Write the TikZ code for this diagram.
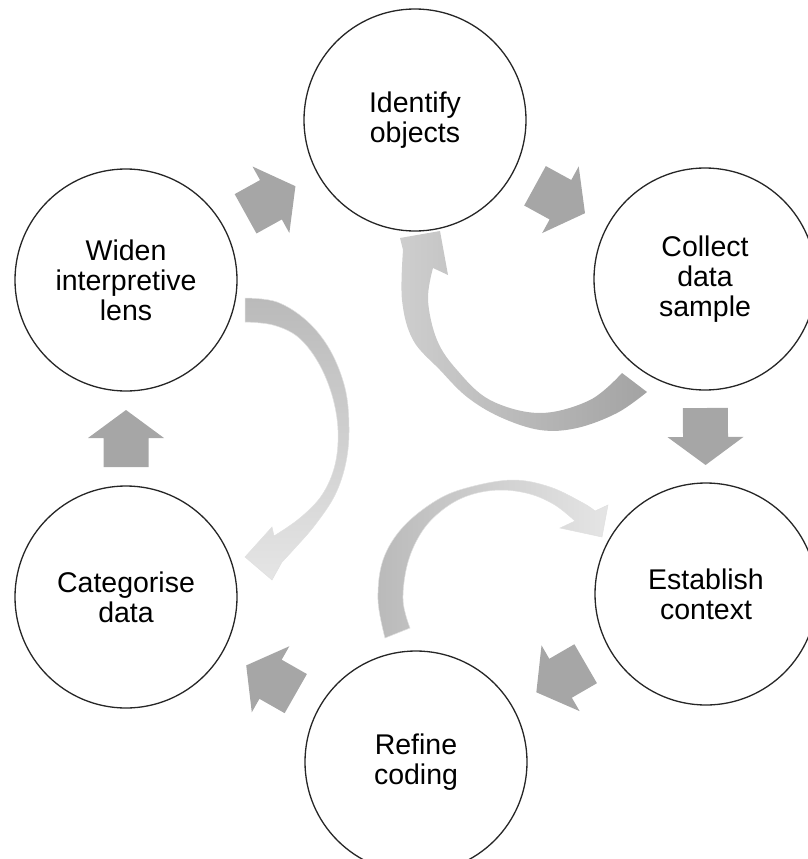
\documentclass[tikz,border=0pt]{standalone}
\usepackage{fontspec}
\setmainfont{Liberation Sans}
\usetikzlibrary{calc}
\definecolor{StepGray}{RGB}{166,166,166}
\definecolor{ReturnDark}{RGB}{163,163,163}
\definecolor{ReturnMid}{RGB}{186,186,186}
\definecolor{ReturnLight}{RGB}{229,229,229}

\begin{document}
\begin{tikzpicture}[
  x=1pt, y=-1pt,
  stage/.style={
    circle,
    draw=black!85,
    line width=1.3pt,
    fill=white,
    minimum size=222pt,
    inner sep=0pt,
    align=center,
    font=\fontsize{28.5}{30}\selectfont
  },
  blockarrow/.pic={
    \fill[StepGray] (-28.5,-22.5) -- (0.5,-22.5) -- (0.5,-38) -- (28.5,0)
      -- (0.5,38) -- (0.5,22.5) -- (-28.5,22.5) -- cycle;
  },
  backarrow/.style={draw=black!12, line width=0.5pt},
  smoothed/.style={smooth, tension=0.6}
]

  \useasboundingbox (0,0) rectangle (808,859);

  % curved return arrows, behind the stages
  \shade[left color=ReturnLight!90!black, right color=ReturnDark]
    (647,392)
    -- plot[smoothed] coordinates {(647,392) (617,413) (577,428) (540,430) (500,417) (467,397) (440,370) (413,340) (402,300) (403,250)}
    -- (400,238) -- (440,231) -- (448,275) -- (433,268)
    -- plot[smoothed] coordinates {(433,268) (428,300) (437,340) (457,370) (490,400) (540,413) (590,400) (622,373)}
    -- cycle;

  \shadedraw[backarrow, top color=ReturnMid, bottom color=ReturnLight]
    (245,298)
    -- plot[smoothed] coordinates {(245,298) (277,302) (307,321) (330,350) (345,388) (349,427) (346,462) (335,495) (315,525) (295,548) (282,562)}
    -- (272,580) -- (245,557) -- (272,527) -- (274,536)
    -- plot[smoothed] coordinates {(274,536) (300,518) (322,495) (335,465) (338,430) (332,395) (318,362) (298,337) (273,325) (245,322)}
    -- cycle;

  \shadedraw[backarrow, left color=ReturnMid, right color=ReturnLight]
    (385,638)
    -- plot[smoothed] coordinates {(385,638) (378,600) (383,560) (403,527) (437,500) (470,487) (513,480) (550,487) (583,503) (595,511)}
    -- (608,505) -- (602,537) -- (560,528) -- (575,521)
    -- plot[smoothed] coordinates {(575,521) (555,505) (530,494) (500,490) (470,495) (445,508) (423,530) (408,562) (403,600) (410,628)}
    -- cycle;

  % the six stages
  \node[stage] (identify)  at (415,120) {Identify\\objects};
  \node[stage] (collect)   at (705,279) {Collect\\data\\sample};
  \node[stage] (establish) at (706,594) {Establish\\context};
  \node[stage] (refine)    at (416,762) {Refine\\coding};
  \node[stage] (categorise) at (126,597) {Categorise\\data};
  \node[stage] (widen)     at (126,280) {Widen\\interpretive\\lens};

  % block arrows halfway between neighbouring stages
  \path let \p1 = ($(identify)-(widen)$) in ($(widen)!0.5!(identify)$) pic[rotate={atan2(\y1,\x1)}] {blockarrow};
  \path let \p1 = ($(collect)-(identify)$) in ($(identify)!0.5!(collect)$) pic[rotate={atan2(\y1,\x1)}] {blockarrow};
  \path let \p1 = ($(establish)-(collect)$) in ($(collect)!0.5!(establish)$) pic[rotate={atan2(\y1,\x1)}] {blockarrow};
  \path let \p1 = ($(refine)-(establish)$) in ($(establish)!0.5!(refine)$) pic[rotate={atan2(\y1,\x1)}] {blockarrow};
  \path let \p1 = ($(categorise)-(refine)$) in ($(refine)!0.5!(categorise)$) pic[rotate={atan2(\y1,\x1)}] {blockarrow};
  \path let \p1 = ($(widen)-(categorise)$) in ($(categorise)!0.5!(widen)$) pic[rotate={atan2(\y1,\x1)}] {blockarrow};

\end{tikzpicture}
\end{document}
